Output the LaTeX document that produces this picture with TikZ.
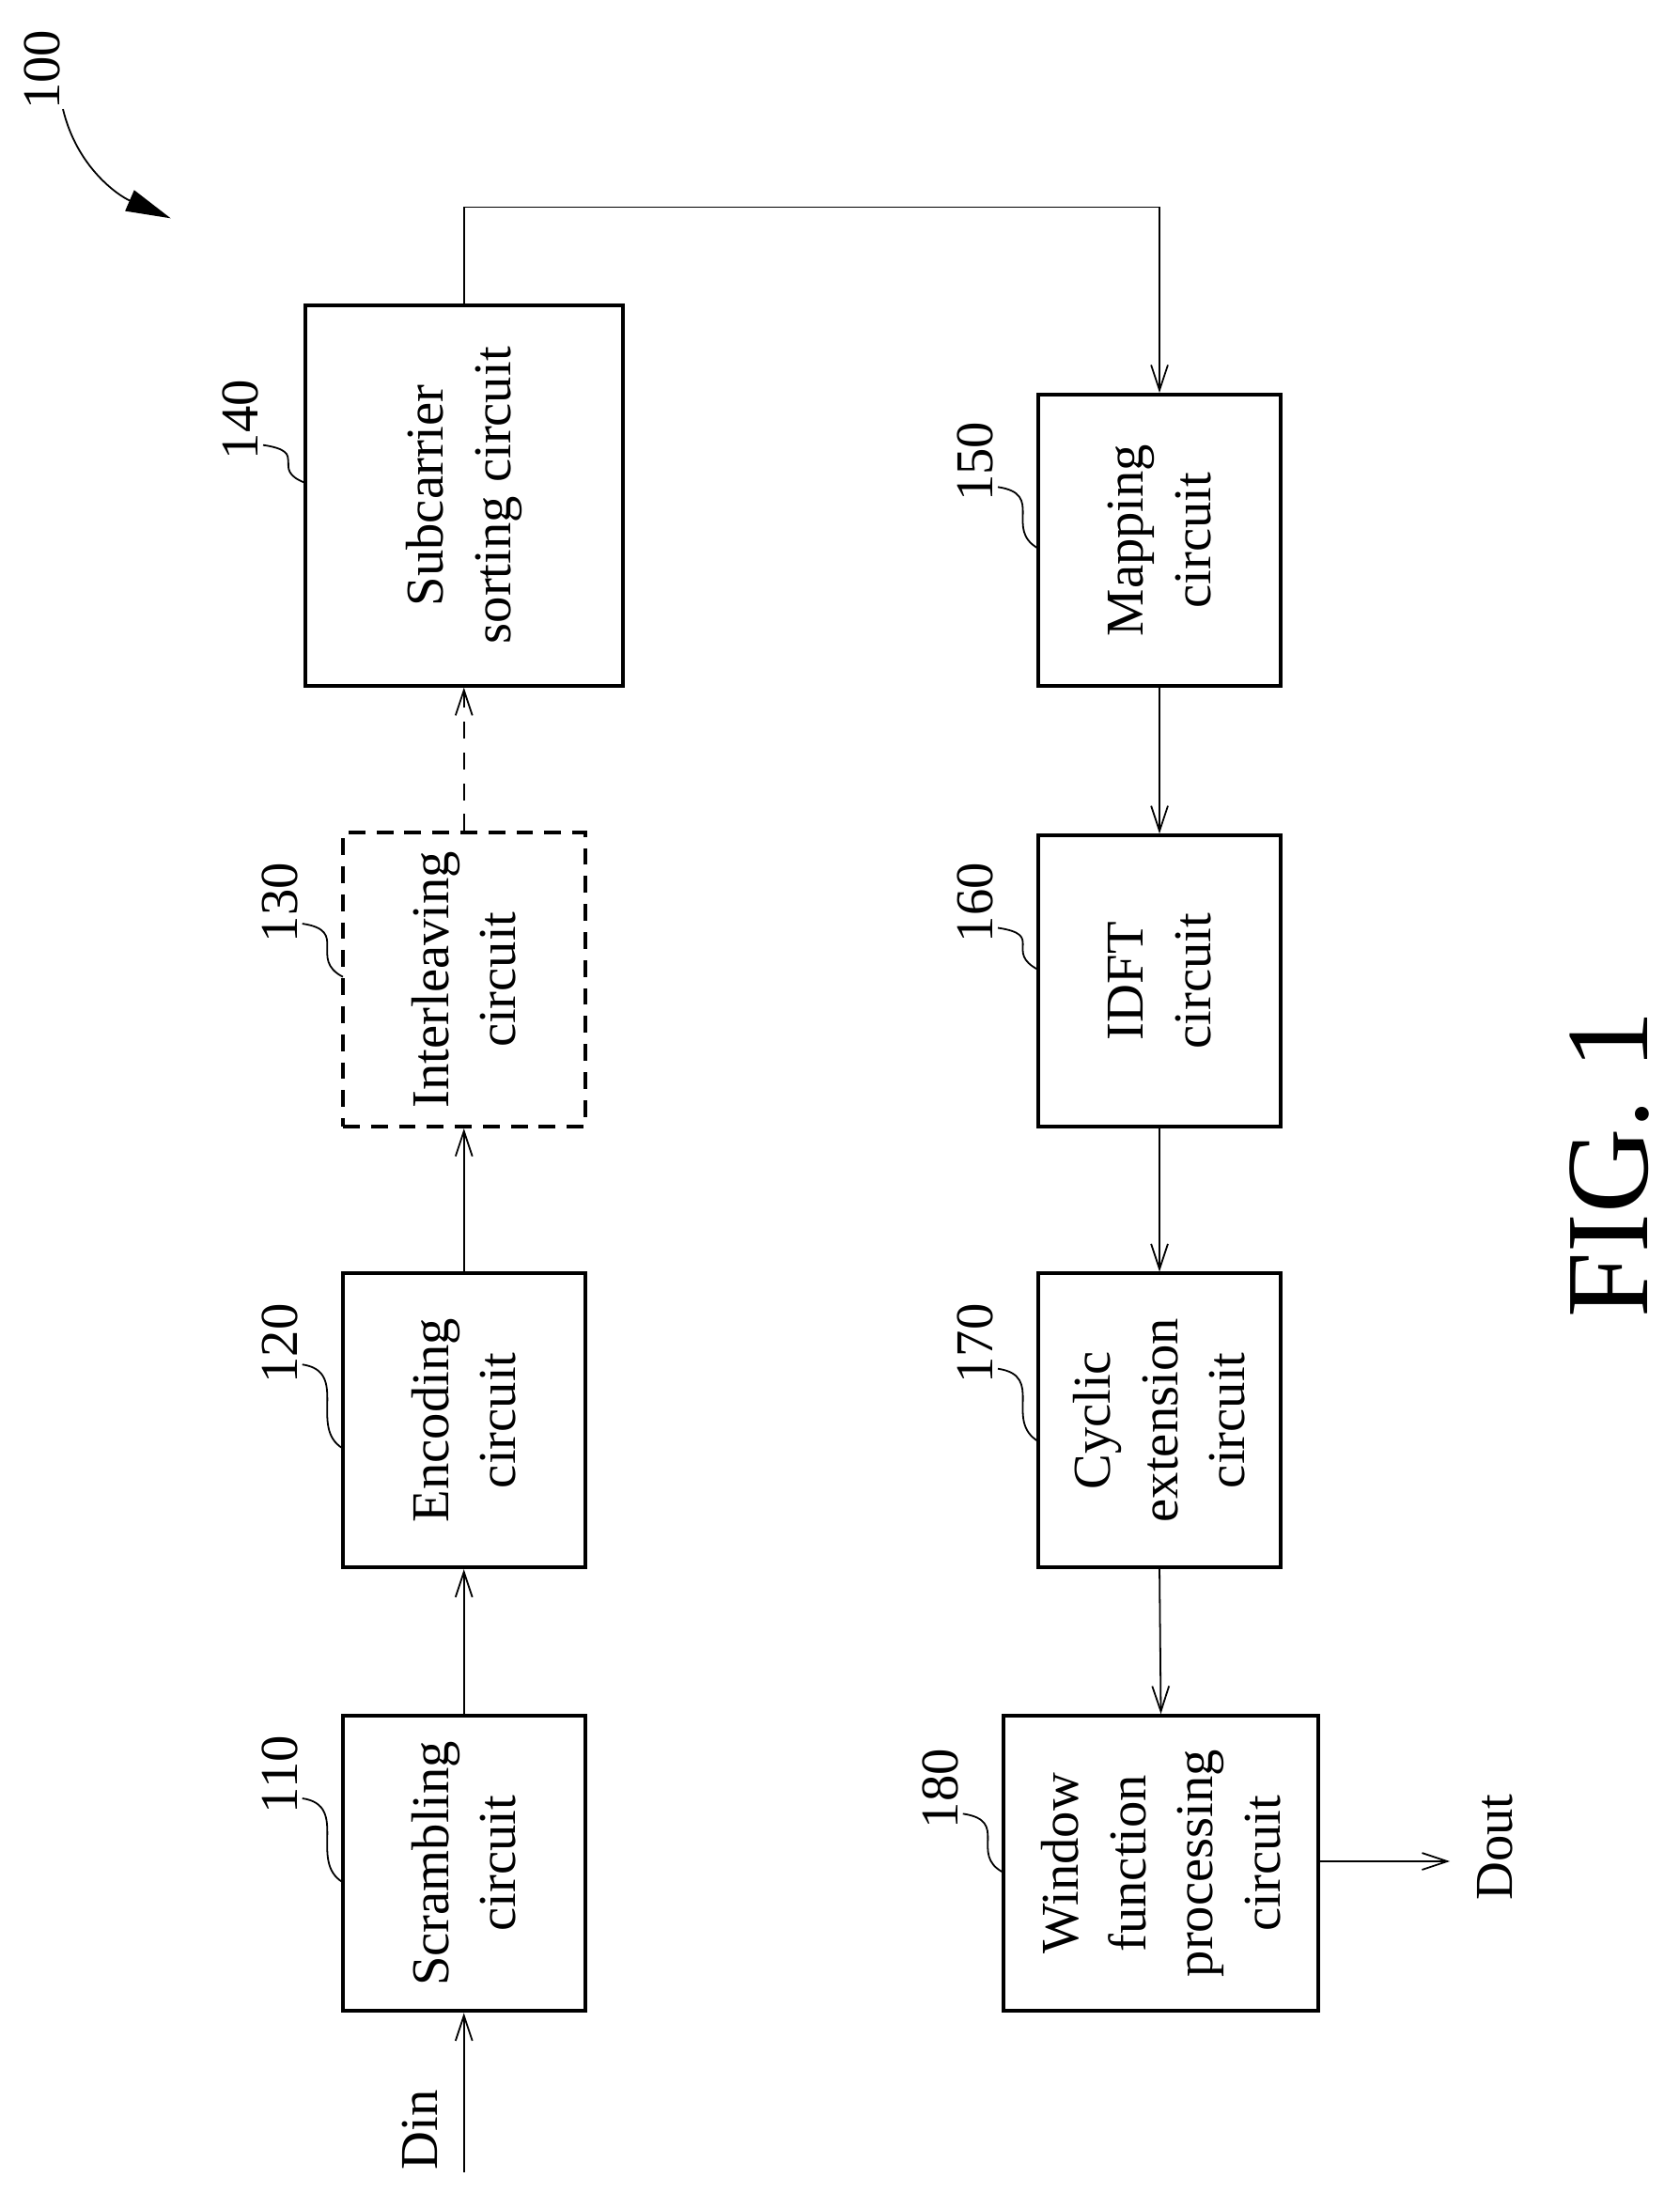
\documentclass[tikz,border=0pt]{standalone}
\usepackage{fontspec}
\setmainfont{Liberation Serif}
\usetikzlibrary{arrows.meta}
\begin{document}
\begin{tikzpicture}[x=0.5pt,y=-0.5pt,
  every node/.style={font=\fontsize{19}{24}\selectfont},
  blk/.style={draw,line width=1.3pt,inner sep=0pt},
  lbl/.style={rotate=90,align=center},
  ar/.style={-{Straight Barb[length=9pt,width=6pt]},line width=0.6pt},
  ld/.style={line width=0.6pt}]
\useasboundingbox (0,0) rectangle (1200,1567);
\node[blk,minimum width=86.5pt,minimum height=105.5pt] (b110) at (331.5,1331.5) {};
\node[lbl] at (b110) {Scrambling\\circuit};
\node[blk,minimum width=86.5pt,minimum height=105pt] (b120) at (331.5,1015) {};
\node[lbl] at (b120) {Encoding\\circuit};
\node[blk,dashed,dash pattern=on 6pt off 4pt,minimum width=86.5pt,minimum height=105pt] (b130) at (331.5,700) {};
\node[lbl] at (b130) {Interleaving\\circuit};
\node[blk,minimum width=113.5pt,minimum height=136pt] (b140) at (331.5,354) {};
\node[lbl] at (b140) {Subcarrier\\sorting circuit};
\node[blk,minimum width=86.5pt,minimum height=104pt] (b150) at (828.5,386) {};
\node[lbl] at (b150) {Mapping\\circuit};
\node[blk,minimum width=86.5pt,minimum height=104pt] (b160) at (828.5,701) {};
\node[lbl] at (b160) {IDFT\\circuit};
\node[blk,minimum width=86.5pt,minimum height=105pt] (b170) at (828.5,1015) {};
\node[lbl] at (b170) {Cyclic\\extension\\circuit};
\node[blk,minimum width=112.5pt,minimum height=105.5pt] (b180) at (829.5,1331.5) {};
\node[lbl] at (b180) {Window\\function\\processing\\circuit};
% connectors
\coordinate (din) at (331.5,1552);
\node[lbl] at (300,1522) {Din};
\draw[ar] (din) -- (b110.south);
\draw[ar] (b110.north) -- (b120.south);
\draw[ar] (b120.north) -- (b130.south);
\draw[ar,dashed,dash pattern=on 6pt off 5pt] (b130.north) -- (b140.south);
\coordinate (t1) at (331.5,148);
\coordinate (t2) at (828.5,148);
\draw[ar] (b140.north) -- (t1) -- (t2) -- (b150.north);
\draw[ar] (b150.south) -- (b160.north);
\draw[ar] (b160.south) -- (b170.north);
\draw[ar] (b170.south) -- (b180.north);
\coordinate (dout) at (1036,1330);
\draw[ar] (b180.east |- dout) -- (dout);
\node[lbl] at (1068,1320) {Dout};
% reference numerals
\node[lbl] (n110) at (200,1268) {110};
\draw[ld] (216,1285) .. controls (250,1290) and (220,1330) .. (245,1345);
\node[lbl] (n120) at (200,960) {120};
\draw[ld] (216,975) .. controls (250,980) and (220,1020) .. (245,1035);
\node[lbl] (n130) at (200,645) {130};
\draw[ld] (216,660) .. controls (250,665) and (220,685) .. (245,698);
\node[lbl] (n140) at (172,300) {140};
\draw[ld] (188,318) .. controls (222,323) and (192,335) .. (218,345);
\node[lbl] (n150) at (697,330) {150};
\draw[ld] (713,348) .. controls (747,353) and (717,378) .. (742,392);
\node[lbl] (n160) at (697,645) {160};
\draw[ld] (713,663) .. controls (747,668) and (717,680) .. (742,693);
\node[lbl] (n170) at (697,960) {170};
\draw[ld] (713,978) .. controls (747,983) and (717,1015) .. (742,1030);
\node[lbl] (n180) at (672,1278) {180};
\draw[ld] (688,1296) .. controls (722,1301) and (692,1325) .. (717,1338);
\node[lbl] (n100) at (30,50) {100};
\coordinate (a100) at (122,156);
\draw[ld,-{Triangle[length=16pt,width=8pt]}] (45,78) .. controls (55,120) and (85,140) .. (a100);
\node[lbl,font=\fontsize{42}{50}\selectfont] (fig) at (1150,832) {FIG. 1};
\end{tikzpicture}
\end{document}
